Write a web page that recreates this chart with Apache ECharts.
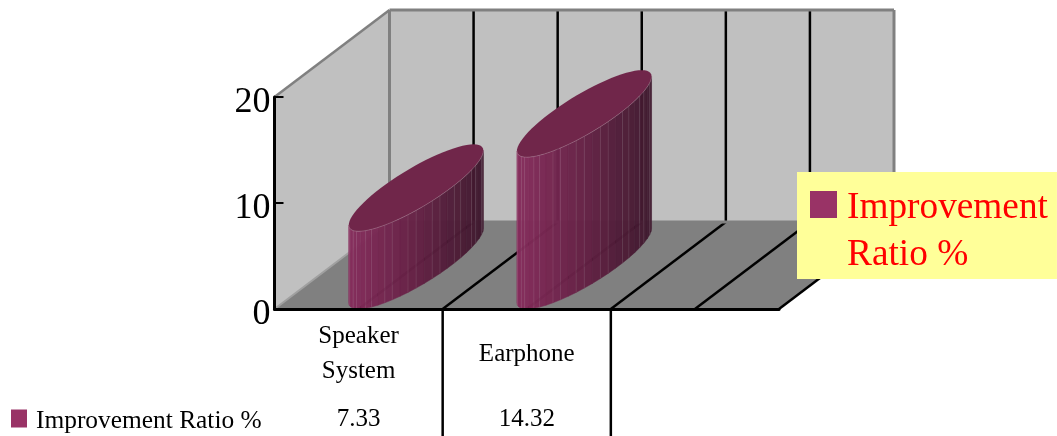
<!DOCTYPE html>
<html><head><meta charset="utf-8">
<style>html,body{margin:0;padding:0;background:#fff;overflow:hidden}#c{width:1057px;height:436px}</style>
<script src="https://cdn.jsdelivr.net/npm/echarts@6/dist/echarts.min.js"></script>
</head><body><div id="c"></div>
<script>
const categories = ['Speaker\nSystem', 'Earphone', ''];
const improvementRatio = [7.33, 14.32];
const tableValues = ['7.33', '14.32', ''];
const seriesName = 'Improvement Ratio %';
const yTicks = {min: 0, max: 20, interval: 10};

const SERIF = '"Liberation Serif", serif';
const DEPTH_X = 115, DEPTH_Y = 87;   // oblique depth of the 3D box
const BAR_HALF = 0.208;              // cylinder half width, share of a category
const FACETS = 52;

function lerp(a, b, k) { return Math.round(a + (b - a) * k); }
function shade(k) {
  const stops = [[134, 44, 92], [100, 32, 68], [62, 25, 46]];
  const p = k * 2, i = Math.min(1, Math.floor(p)), f = p - i;
  return 'rgb(' + [0, 1, 2].map(c => lerp(stops[i][c], stops[i + 1][c], f)).join(',') + ')';
}

function renderFrame(params, api) {
  const o = api.coord([0, 0]);
  const size = api.size([1, 0]);
  const cw = size[0];
  const x0 = o[0] - cw / 2, y0 = o[1];
  const top = api.coord([0, yTicks.max])[1];
  const x1 = x0 + cw * categories.length;
  const dx = DEPTH_X, dy = DEPTH_Y;
  const kids = [];
  const poly = (pts, fill) => kids.push({type: 'polygon', shape: {points: pts}, style: {fill: fill}, silent: true});
  const line = (a, b, color, w) => kids.push({type: 'line', shape: {x1: a[0], y1: a[1], x2: b[0], y2: b[1]}, style: {stroke: color, lineWidth: w}, silent: true});
  poly([[x0, top], [x0 + dx, top - dy], [x0 + dx, y0 - dy], [x0, y0]], '#c0c0c0');
  poly([[x0 + dx, top - dy], [x1 + dx, top - dy], [x1 + dx, y0 - dy], [x0 + dx, y0 - dy]], '#c0c0c0');
  poly([[x0, y0], [x1, y0], [x1 + dx, y0 - dy], [x0 + dx, y0 - dy]], '#808080');
  for (let i = 1; i < categories.length * 2; i++) {
    const xf = x0 + i * cw / 2;
    line([xf + dx, top - dy], [xf + dx, y0 - dy], '#000', 2.5);
    line([xf, y0], [xf + dx, y0 - dy], '#000', 2.5);
  }
  line([x0, top], [x0 + dx, top - dy], '#808080', 2.5);
  line([x0 + dx, top - dy], [x1 + dx, top - dy], '#808080', 3);
  line([x0 + dx, top - dy], [x0 + dx, y0 - dy], '#808080', 3);
  line([x1 + dx, top - dy], [x1 + dx, y0 - dy], '#808080', 3);
  line([x0 + dx, y0 - dy], [x1 + dx, y0 - dy], '#808080', 3);
  line([x0, y0], [x0 + dx, y0 - dy], '#a0a0a0', 2);
  line([x1, y0], [x1 + dx, y0 - dy], '#000', 2.5);
  for (let i = 1; i < categories.length; i++) {
    const xt = x0 + i * cw;
    line([xt, y0], [xt, y0 + 130], '#000', 2.5);
  }
  return {type: 'group', children: kids};
}

function renderBar(params, api) {
  const base = api.coord([api.value(0), 0]);
  const head = api.coord([api.value(0), api.value(1)]);
  const a = api.size([1, 0])[0] * BAR_HALF;
  const bx = DEPTH_X / 2, by = DEPTH_Y / 2;
  const cx = base[0] + bx, cyB = base[1] - by, cyT = head[1] - by;
  const P = (t, cy) => [cx + a * Math.cos(t) + bx * Math.sin(t), cy - by * Math.sin(t)];
  const t0 = Math.atan2(bx, a);
  const from = t0 - Math.PI, to = t0;     // front half: left silhouette to right silhouette
  const R = Math.hypot(a, bx);
  const kids = [];
  const OP = 0.97;
  const n = Math.round(FACETS / 2);
  for (let i = 0; i < n; i++) {
    const t1 = from + i * (to - from) / n, t2 = from + (i + 1) * (to - from) / n;
    const p1 = P(t1, cyT), p2 = P(t2, cyT), p3 = P(t2, cyB), p4 = P(t1, cyB);
    const xk = ((p1[0] + p2[0]) / 2 - (cx - R)) / (2 * R);
    kids.push({type: 'polygon', shape: {points: [p1, p2, p3, p4]},
      style: {fill: shade(xk), stroke: shade(xk), lineWidth: 0.5, opacity: OP}, silent: true});
  }
  for (let i = 1; i < n; i++) {
    if (i % 3 === 2) continue;
    const t = from + i * (to - from) / n;
    const p = P(t, cyT), q = P(t, cyB);
    kids.push({type: 'line', shape: {x1: p[0], y1: p[1], x2: q[0], y2: q[1]},
      style: {stroke: 'rgba(255,255,255,0.11)', lineWidth: 1}, silent: true});
  }
  const topPts = [], rim = [];
  for (let i = 0; i <= 72; i++) topPts.push(P(i / 72 * 2 * Math.PI, cyT));
  for (let i = 0; i <= 40; i++) rim.push(P(from + i / 40 * (to - from), cyT));
  kids.push({type: 'polygon', shape: {points: topPts}, style: {fill: '#70264a'}, silent: true});
  kids.push({type: 'polyline', shape: {points: rim}, style: {fill: 'none', stroke: 'rgba(255,255,255,0.2)', lineWidth: 1}, silent: true});
  return {type: 'group', children: kids};
}

const chart = echarts.init(document.getElementById('c'), null, {width: 1057, height: 436});
chart.setOption({
  animation: false,
  backgroundColor: '#fff',
  grid: {left: 274.5, top: 97, width: 504.5, height: 212},
  xAxis: [{
    type: 'category', data: categories, position: 'bottom', z: 5,
    axisLine: {show: true, onZero: false, lineStyle: {color: '#000', width: 3}},
    axisTick: {show: false}, splitLine: {show: false},
    axisLabel: {interval: 0, margin: 45, verticalAlign: 'middle', lineHeight: 35, color: '#000', fontFamily: SERIF, fontSize: 25}
  }, {
    type: 'category', data: tableValues, position: 'bottom',
    axisLine: {show: false}, axisTick: {show: false}, splitLine: {show: false},
    axisLabel: {interval: 0, margin: 110, verticalAlign: 'middle', color: '#000', fontFamily: SERIF, fontSize: 25}
  }],
  yAxis: {
    type: 'value', min: yTicks.min, max: yTicks.max, interval: yTicks.interval, z: 5,
    axisLine: {show: true, lineStyle: {color: '#000', width: 3}},
    axisTick: {show: true, inside: true, length: 9, lineStyle: {color: '#000', width: 2}},
    splitLine: {show: false},
    axisLabel: {margin: 4, formatter: '{t|{value}}',
      rich: {t: {color: '#000', fontFamily: SERIF, fontSize: 36, padding: [12, 0, 0, 0]}}}
  },
  legend: [{
    left: 797, top: 172, orient: 'vertical', padding: [13, 9, 0, 13],
    backgroundColor: '#ffff99', borderWidth: 0,
    itemWidth: 32, itemHeight: 94, itemGap: 0,
    selectedMode: false,
    data: [{name: seriesName, icon: 'path://M0 0L0 0M0 6H27V33H0ZM32 94L32 94', itemStyle: {color: '#993366'}}],
    formatter: () => 'Improvement\nRatio %',
    textStyle: {color: '#ff0000', fontFamily: SERIF, fontSize: 37.3, lineHeight: 47}
  }, {
    left: 11, top: 409, padding: 0, itemWidth: 20, itemHeight: 24, itemGap: 0,
    selectedMode: false,
    data: [{name: seriesName, icon: 'path://M0 0H16V18H0ZM20 24L20 24', itemStyle: {color: '#993366'}}],
    textStyle: {color: '#000', fontFamily: SERIF, fontSize: 25.4}
  }],
  tooltip: {show: false},
  series: [{
    name: 'frame', type: 'custom', renderItem: renderFrame, data: [[0]], z: 1, silent: true, clip: false,
    encode: {x: 0}, xAxisIndex: 0
  }, {
    name: seriesName, type: 'custom', renderItem: renderBar, z: 3, clip: false, silent: true,
    itemStyle: {color: '#993366'}, xAxisIndex: 0,
    encode: {x: 0, y: 1},
    data: improvementRatio.map((v, i) => [i, v])
  }]
});
</script></body></html>
